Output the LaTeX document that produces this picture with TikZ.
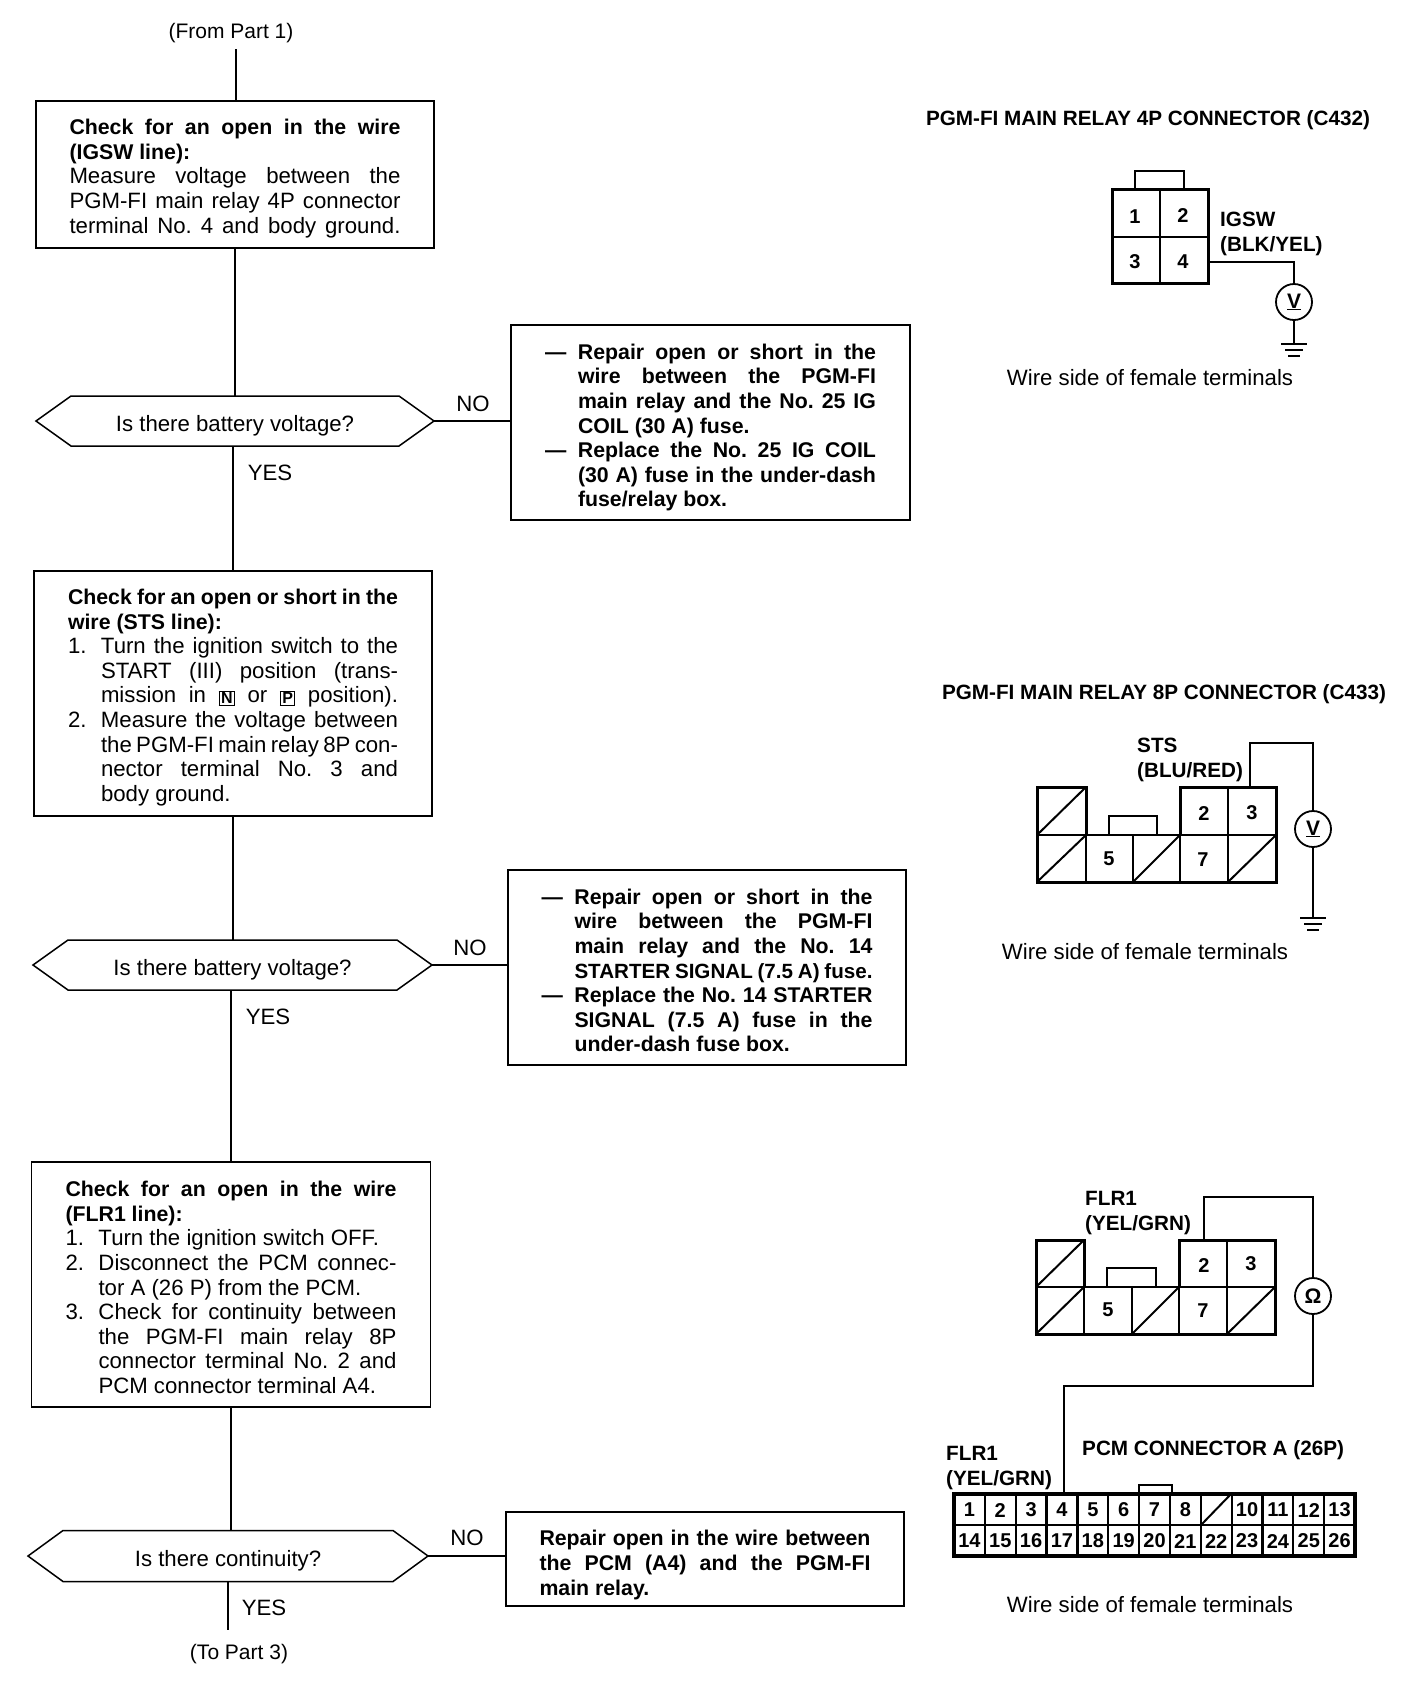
\documentclass[tikz,border=0pt]{standalone}
\usepackage{fontspec}
\setmainfont{Liberation Sans}
\frenchspacing
\newcommand\bodyfs{\fontsize{22.2}{24.6}\selectfont}
\newcommand\partfs{\fontsize{21}{24.6}\selectfont}
\newcommand\bfs{\fontsize{21.3}{24.6}\selectfont\bfseries}
\newcommand\titlefs{\fontsize{20.7}{24.6}\selectfont\bfseries}
\newcommand\jline[1]{\makebox[\hsize][s]{#1}\par}
\newcommand\nline[1]{\hbox{#1}}
\newcommand\numj[2]{\hbox to \hsize{\hbox to 33pt{#1\hss}\makebox[\dimexpr\hsize-33pt\relax][s]{#2}}}
\newcommand\numl[2]{\hbox to \hsize{\hbox to 33pt{#1\hss}#2\hss}}
\newcommand\dashj[1]{\hbox to \hsize{\hbox to 33pt{---\hss}\makebox[\dimexpr\hsize-33pt\relax][s]{#1}}}
\newcommand\dashl[1]{\hbox to \hsize{\hbox to 33pt{---\hss}#1\hss}}
\newcommand\indj[1]{\numj{}{#1}}
\newcommand\indl[1]{\numl{}{#1}}
\newcommand\keybox[1]{{\fboxsep=1.2pt\fboxrule=1.2pt\raisebox{-1pt}{\fbox{\fontsize{16}{16}\selectfont\bfseries #1}}}}
\newcommand\lines[3]{\parbox{#1pt}{\baselineskip=24.6pt\lineskiplimit=-20pt\parindent=0pt\parskip=0pt \vspace*{#2pt}#3}}
\newcommand\hextext[1]{\rule{0pt}{25pt}#1}
\tikzset{
  x=1pt,y=-1pt,
  flowbox/.style={draw,line width=1.7pt,anchor=north west,inner sep=0pt,outer sep=0pt,font=\bodyfs},
  hexnode/.style={inner sep=0pt,outer sep=0pt,font=\bodyfs,minimum height=50pt},
  hexline/.style={line width=1.5pt},
  link/.style={line width=1.5pt},
  lab/.style={font=\bodyfs,inner sep=0pt},
  partlab/.style={font=\partfs,inner sep=0pt},
  blab/.style={font=\titlefs,inner sep=0pt,anchor=west,align=left},
  cnum/.style={font=\fontsize{20}{22}\selectfont\bfseries,inner sep=0pt},
  heavy/.style={line width=3pt,line join=miter},
  thin cell/.style={line width=1.3pt},
  wire/.style={line width=2.4pt,line join=miter},
  meter/.style={draw,circle,line width=1.8pt,minimum size=36pt,inner sep=0pt,outer sep=0pt,fill=white,font=\fontsize{21}{21}\selectfont\bfseries},
}
\newcommand\hexa[1]{\draw[hexline] (#1.west)--([xshift=35pt]#1.north west)--([xshift=-35pt]#1.north east)--(#1.east)--([xshift=-35pt]#1.south east)--([xshift=35pt]#1.south west)--cycle;}
\newcommand\gnd[1]{\draw[line width=2pt] ([xshift=-13pt]#1)--([xshift=13pt]#1) ([xshift=-9pt,yshift=-6pt]#1)--([xshift=9pt,yshift=-6pt]#1) ([xshift=-6pt,yshift=-12pt]#1)--([xshift=6pt,yshift=-12pt]#1);}
\begin{document}
\begin{tikzpicture}
\useasboundingbox (0,0) rectangle (1408,1706);
\fill[white] (0,0) rectangle (1408,1706);

% ---- flow column ----
\node[partlab] (from) at (231,33) {(From Part 1)};
\coordinate (fromend) at (236,49);
\node[flowbox,minimum width=398pt,minimum height=147pt] (box1) at (36,101) {\lines{331}{8}{%
\jline{\bfs Check for an open in the wire}
\nline{\bfs (IGSW line):}
\jline{Measure voltage between the}
\jline{PGM-FI main relay 4P connector}
\jline{terminal No. 4 and body ground.}}};
\draw[link] (fromend) -- (fromend |- box1.north);

\node[hexnode,minimum width=398pt] (d1) at (235,421) {\hextext{Is there battery voltage?}};
\hexa{d1}
\draw[link] (box1.south) -- (d1.north);
\node[flowbox,minimum width=399pt,minimum height=195pt] (rep1) at (511,325) {\lines{331}{10}{\bfs%
\dashj{Repair open or short in the}
\indj{wire between the PGM-FI}
\indj{main relay and the No. 25 IG}
\indl{COIL (30 A) fuse.}
\dashj{Replace the No. 25 IG COIL}
\indj{(30 A) fuse in the under-dash}
\indl{fuse/relay box.}}};
\draw[link] (d1.east) -- (d1.east -| rep1.west);
\node[lab] (no1) at (473,404) {NO};
\node[lab] (yes1) at (270,473) {YES};

\node[flowbox,minimum width=398pt,minimum height=245pt] (box2) at (34,571) {\lines{330}{8}{%
\jline{\bfs Check for an open or short in the}
\nline{\bfs wire (STS line):}
\numj{1.}{Turn the ignition switch to the}
\indj{START (III) position (trans-}
\indj{mission in \keybox{N} or \keybox{P} position).}
\numj{2.}{Measure the voltage between}
\indj{the PGM-FI main relay 8P con-}
\indj{nector terminal No. 3 and}
\indl{body ground.}}};
\draw[link] (box2.north |- d1.south) -- (box2.north);

\node[hexnode,minimum width=399pt] (d2) at (232.5,965) {\hextext{Is there battery voltage?}};
\hexa{d2}
\draw[link] (box2.south) -- (box2.south |- d2.north);
\node[flowbox,minimum width=398pt,minimum height=195pt] (rep2) at (508,870) {\lines{331}{6}{\bfs%
\dashj{Repair open or short in the}
\indj{wire between the PGM-FI}
\indj{main relay and the No. 14}
\indj{\fontsize{20.6}{24.6}\selectfont\bfseries STARTER SIGNAL (7.5 A) fuse.}
\dashj{Replace the No. 14 STARTER}
\indj{SIGNAL (7.5 A) fuse in the}
\indl{under-dash fuse box.}}};
\draw[link] (d2.east) -- (d2.east -| rep2.west);
\node[lab] (no2) at (470,948) {NO};
\node[lab] (yes2) at (268,1017) {YES};

\node[flowbox,minimum width=399pt,minimum height=245pt] (box3) at (31.5,1162) {\lines{331}{6}{%
\jline{\bfs Check for an open in the wire}
\nline{\bfs (FLR1 line):}
\numl{1.}{Turn the ignition switch OFF.}
\numj{2.}{Disconnect the PCM connec-}
\indl{tor A (26 P) from the PCM.}
\numj{3.}{Check for continuity between}
\indj{the PGM-FI main relay 8P}
\indj{connector terminal No. 2 and}
\indl{PCM connector terminal A4.}}};
\draw[link] (box3.north |- d2.south) -- (box3.north);

\node[hexnode,minimum width=400pt,minimum height=51pt] (d3) at (228,1556) {\hextext{Is there continuity?}};
\hexa{d3}
\draw[link] (box3.south) -- (box3.south |- d3.north);
\node[flowbox,minimum width=398pt,minimum height=94pt] (rep3) at (506,1512) {\lines{331}{12}{\bfs%
\jline{Repair open in the wire between}
\jline{the PCM (A4) and the PGM-FI}
\nline{main relay.}}};
\draw[link] (d3.east) -- (d3.east -| rep3.west);
\node[lab] (no3) at (467,1538) {NO};
\node[lab] (yes3) at (264,1608) {YES};
\node[partlab] (to) at (239,1654) {(To Part 3)};
\coordinate (toend) at (227.5,1630);
\draw[link] (d3.south) -- (d3.south |- toend);

% ---- 4P connector ----
\node[font=\titlefs,inner sep=0pt] (t4p) at (1148,120) {PGM-FI MAIN RELAY 4P CONNECTOR (C432)};
\draw[heavy] (1112,189) rectangle (1208,283);
\draw[wire] (1135,189)--(1135,171)--(1184,171)--(1184,189);
\draw[thin cell] (1160,189)--(1160,283) (1112,237)--(1208,237);
\node[cnum] (p41) at (1135,217) {1};
\node[cnum] (p42) at (1183,216) {2};
\node[cnum] (p43) at (1135,262) {3};
\node[cnum] (p44) at (1183,262) {4};
\node[blab] (igsw) at (1220,234) {IGSW\\(BLK/YEL)};
\coordinate (w4a) at (1208,262);
\coordinate (g4) at (1294,344);
\node[meter] (m4) at (1294,302) {\underline{V}};
\draw[wire] (w4a) -| (m4.north);
\draw[wire] (m4.south) -- (g4);
\gnd{g4}
\node[lab] (cap4) at (1150,378) {Wire side of female terminals};

% ---- 8P connector ----
\node[font=\titlefs,inner sep=0pt] (t8p) at (1164,694) {PGM-FI MAIN RELAY 8P CONNECTOR (C433)};
\draw[heavy] (1037,835)--(1037,787)--(1086,787)--(1086,835) (1037,835)--(1037,882)--(1276,882)--(1276,787)--(1180,787)--(1180,835);
\draw[wire] (1086,835)--(1109,835)--(1109,816)--(1157,816)--(1157,835)--(1180,835);
\draw[thin cell] (1037,835)--(1276,835) (1086,835)--(1086,882) (1133,835)--(1133,882) (1180,835)--(1180,882) (1228,787)--(1228,882);
\draw[line width=2pt] (1037,835)--(1086,787) (1037,882)--(1086,835) (1133,882)--(1180,835) (1228,882)--(1276,835);
\node[cnum] (p82) at (1204,814) {2};
\node[cnum] (p83) at (1252,813) {3};
\node[cnum] (p85) at (1109,859) {5};
\node[cnum] (p87) at (1203,860) {7};
\node[blab] (sts) at (1137,760) {STS\\(BLU/RED)};
\coordinate (w8a) at (1250,787);
\coordinate (w8b) at (1250,743);
\coordinate (g8) at (1313,918);
\node[meter] (m8) at (1313,829) {\underline{V}};
\draw[wire] (w8a) -- (w8b) -| (m8.north);
\draw[wire] (m8.south) -- (g8);
\gnd{g8}
\node[lab] (cap8) at (1145,952) {Wire side of female terminals};

% ---- FLR1 8P connector ----
\draw[heavy] (1036,1287)--(1036,1240)--(1084,1240)--(1084,1287) (1036,1287)--(1036,1334)--(1275,1334)--(1275,1240)--(1179,1240)--(1179,1287);
\draw[wire] (1084,1287)--(1107,1287)--(1107,1268)--(1156,1268)--(1156,1287)--(1179,1287);
\draw[thin cell] (1036,1287)--(1275,1287) (1084,1287)--(1084,1334) (1132,1287)--(1132,1334) (1179,1287)--(1179,1334) (1227,1240)--(1227,1334);
\draw[line width=2pt] (1036,1287)--(1084,1240) (1036,1334)--(1084,1287) (1132,1334)--(1179,1287) (1227,1334)--(1275,1287);
\node[cnum] (q2) at (1204,1265) {2};
\node[cnum] (q3) at (1251,1264) {3};
\node[cnum] (q5) at (1108,1310) {5};
\node[cnum] (q7) at (1203,1311) {7};
\node[blab] (flra) at (1085,1213) {FLR1\\(YEL/GRN)};
\coordinate (wfa) at (1204,1240);
\coordinate (wfb) at (1204,1197);
\coordinate (wfc) at (1313,1386);
\coordinate (wfd) at (1064,1386);
\coordinate (wfe) at (1064,1494);
\node[meter] (mf) at (1313,1296) {Ω};
\draw[wire] (wfa) -- (wfb) -| (mf.north);
\draw[wire] (mf.south) -- (wfc) -- (wfd) -- (wfe);

% ---- PCM connector ----
\node[blab] (flrb) at (946,1468) {FLR1\\(YEL/GRN)};
\node[font=\titlefs,inner sep=0pt,anchor=west] (pcmt) at (1082,1450) {PCM CONNECTOR A (26P)};
\draw[wire] (1139,1494)--(1139,1485)--(1172,1485)--(1172,1494);
\draw[line width=3.6pt] (954,1494) rectangle (1355,1556);
\draw[line width=2.2pt] (954,1525)--(1355,1525);
\foreach \i in {1,...,12} \draw[line width=2.2pt] ({954+30.85*\i},1494)--({954+30.85*\i},1556);
\draw[line width=2pt] (1201,1525)--(1231,1494);
\foreach \n [count=\k from 0] in {1,2,3,4,5,6,7,8,{},10,11,12,13} \node[cnum] (ua\k) at ({969.4+30.85*\k},1510) {\n};
\foreach \n [count=\k from 0] in {14,15,16,17,18,19,20,21,22,23,24,25,26} \node[cnum] (la\k) at ({969.4+30.85*\k},1541) {\n};
\node[lab] (capf) at (1150,1605) {Wire side of female terminals};
\end{tikzpicture}
\end{document}
